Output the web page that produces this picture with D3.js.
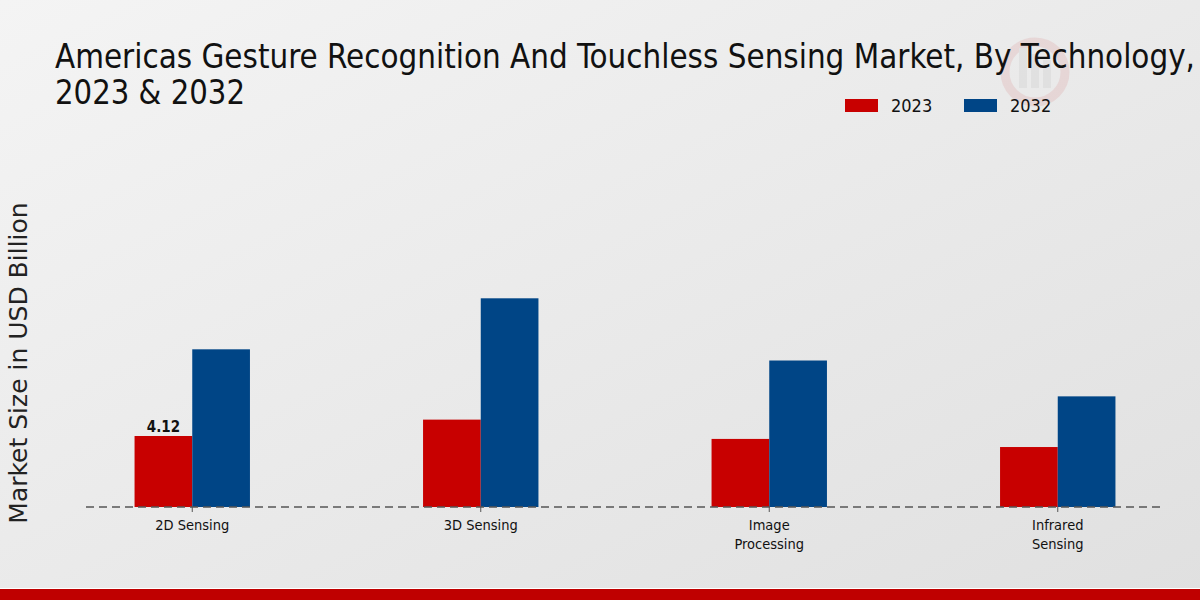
<!DOCTYPE html>
<html>
<head>
<meta charset="utf-8">
<script src="https://d3js.org/d3.v7.min.js"></script>
<style>
  body { margin: 0; }
  svg { display: block; }
  .cond { font-family: "DejaVu Sans Condensed", "DejaVu Sans", sans-serif; font-stretch: condensed; }
</style>
</head>
<body>
<div id="chart"></div>
<script>
// data
var categories = ["2D Sensing", "3D Sensing", "Image\nProcessing", "Infrared\nSensing"];
var years = ["2023", "2032"];
var values2023 = [4.12, 5.07, 3.95, 3.48];
var values2032 = [9.15, 12.11, 8.50, 6.42];
var colors = ["#c80000", "#004586"];

var W = 1200, H = 600;
var svg = d3.select("#chart").append("svg").attr("width", W).attr("height", H);

// background
var defs = svg.append("defs");
var grad = defs.append("linearGradient").attr("id", "bg")
    .attr("x1", "0%").attr("y1", "0%").attr("x2", "100%").attr("y2", "100%");
grad.append("stop").attr("offset", "0%").attr("stop-color", "#f4f4f4");
grad.append("stop").attr("offset", "100%").attr("stop-color", "#e0e0e0");
svg.append("rect").attr("width", W).attr("height", H).attr("fill", "url(#bg)");

// faint watermark
var wm = svg.append("g").attr("opacity", 0.08).attr("transform", "translate(1035,72)");
wm.append("circle").attr("r", 30).attr("fill", "none").attr("stroke", "#c00000").attr("stroke-width", 9);
[-12, 0, 12].forEach(function (dx, i) {
  wm.append("rect").attr("x", dx - 4).attr("y", -18 + i * 6 - 6).attr("width", 8).attr("height", 40 - i * 6).attr("fill", "#777");
});

// bottom band
svg.append("rect").attr("x", 0).attr("y", 588).attr("width", W).attr("height", 1.5).attr("fill", "#ffffff");
svg.append("rect").attr("x", 0).attr("y", 589).attr("width", W).attr("height", 11).attr("fill", "#bf0000");

// title
var title = svg.append("text").attr("class", "cond").attr("fill", "#111").attr("font-size", 34);
title.append("tspan").attr("x", 55).attr("y", 68)
  .attr("textLength", 1140).attr("lengthAdjust", "spacingAndGlyphs")
  .text("Americas Gesture Recognition And Touchless Sensing Market, By Technology,");
title.append("tspan").attr("x", 55).attr("y", 104)
  .attr("textLength", 190).attr("lengthAdjust", "spacingAndGlyphs")
  .text("2023 & 2032");

// legend
var legend = svg.append("g");
var legendX = [845, 964];
years.forEach(function (yr, i) {
  legend.append("rect").attr("x", legendX[i]).attr("y", 99).attr("width", 33).attr("height", 13).attr("fill", colors[i]);
  legend.append("text").attr("class", "cond").attr("x", legendX[i] + 46).attr("y", 112)
    .attr("font-size", 18).attr("fill", "#111").text(yr);
});

// scales
var baseY = 507;
var x0 = d3.scaleBand().domain(categories).range([48, 1202]).paddingInner(0.6).paddingOuter(0.3);
var x1 = d3.scaleBand().domain(years).range([0, x0.bandwidth()]);
var y = d3.scaleLinear().domain([0, 12.11]).range([baseY, baseY - 208.7]);

// bars
var series = [values2023, values2032];
var groups = svg.append("g").selectAll("g").data(categories).join("g")
  .attr("transform", function (d) { return "translate(" + x0(d) + ",0)"; });
groups.selectAll("rect")
  .data(function (d, i) { return years.map(function (yr, j) { return { yr: yr, v: series[j][i], j: j }; }); })
  .join("rect")
  .attr("x", function (d) { return x1(d.yr); })
  .attr("y", function (d) { return y(d.v); })
  .attr("width", x1.bandwidth())
  .attr("height", function (d) { return baseY - y(d.v); })
  .attr("fill", function (d) { return colors[d.j]; });

// value label on first bar
svg.append("text").attr("class", "cond")
  .attr("x", x0(categories[0]) + x1("2023") + x1.bandwidth() / 2)
  .attr("y", y(values2023[0]) - 4)
  .attr("text-anchor", "middle").attr("font-size", 15).attr("font-weight", "bold").attr("fill", "#111")
  .text(values2023[0].toFixed(2));

// baseline
svg.append("line").attr("x1", 86).attr("x2", 1163).attr("y1", baseY).attr("y2", baseY)
  .attr("stroke", "#555").attr("stroke-width", 1.3).attr("stroke-dasharray", "8,5");

// x axis ticks and labels
var axis = svg.append("g");
categories.forEach(function (c) {
  var cx = x0(c) + x0.bandwidth() / 2;
  axis.append("line").attr("x1", cx).attr("x2", cx).attr("y1", baseY).attr("y2", baseY + 5)
    .attr("stroke", "#555").attr("stroke-width", 1);
  var t = axis.append("text").attr("class", "cond").attr("text-anchor", "middle")
    .attr("font-size", 14.5).attr("fill", "#111");
  c.split("\n").forEach(function (line, k) {
    t.append("tspan").attr("x", cx).attr("y", 530 + k * 19).text(line);
  });
});

// y axis title
svg.append("text").attr("transform", "translate(27,363) rotate(-90)")
  .attr("text-anchor", "middle").attr("font-family", "DejaVu Sans, sans-serif")
  .attr("font-size", 25).attr("fill", "#222").text("Market Size in USD Billion");
</script>
</body>
</html>
